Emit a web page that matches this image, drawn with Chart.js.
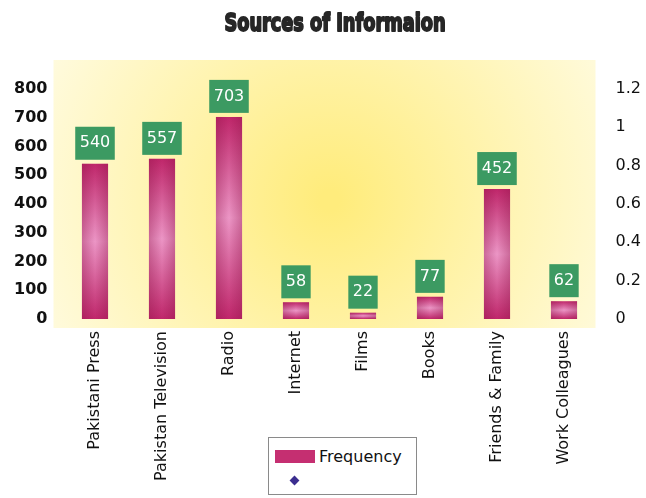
<!DOCTYPE html>
<html>
<head>
<meta charset="utf-8">
<script src="https://cdn.jsdelivr.net/npm/chart.js@4/dist/chart.umd.min.js"></script>
<style>
  body { margin: 0; background: #fff; }
  #wrap { position: relative; width: 646px; height: 498px; overflow: hidden; }
  #legend {
    position: absolute; left: 268px; top: 437px; width: 149px; height: 58px;
    border: 1px solid #8a8a8a; background: #fff; box-sizing: border-box;
    font-family: "DejaVu Sans", sans-serif; font-size: 16px; color: #111;
  }
  #legend .row { position: absolute; left: 6px; display: flex; align-items: center; }
  #legend .swatch { width: 40px; height: 13px; margin-right: 4px; }
  #legend .diamond { width: 7px; height: 7px; transform: rotate(45deg); margin-left: 16px; }
</style>
</head>
<body>
<div id="wrap">
  <canvas id="chart" width="646" height="498"></canvas>
  <div id="legend"></div>
</div>
<script>
// Survey answers: where people get their information
const sources = ['Pakistani Press', 'Pakistan Television', 'Radio', 'Internet',
                 'Films', 'Books', 'Friends & Family', 'Work Colleagues'];
const frequency = [540, 557, 703, 58, 22, 77, 452, 62];
const leftTicks = [0, 100, 200, 300, 400, 500, 600, 700, 800];
const rightTicks = [0, 0.2, 0.4, 0.6, 0.8, 1, 1.2];
const chartTitle = 'Sources of Informaion';

const labelFont = '"DejaVu Sans", sans-serif';

// heavy, squeezed headline above the plot
const headline = {
  id: 'headline',
  afterDraw(chart) {
    const { ctx } = chart;
    ctx.save();
    ctx.translate(335, 25);
    ctx.scale(0.74, 1);
    ctx.font = 'bold 24px "DejaVu Sans", sans-serif';
    ctx.textAlign = 'center';
    ctx.textBaseline = 'middle';
    ctx.lineJoin = 'round';
    ctx.lineWidth = 2;
    ctx.strokeStyle = '#262626';
    ctx.fillStyle = '#262626';
    ctx.strokeText(chartTitle, 0, 0);
    ctx.fillText(chartTitle, 0, 0);
    ctx.restore();
  }
};

// pale yellow glow behind the plot
const backdrop = {
  id: 'backdrop',
  beforeDraw(chart) {
    const { ctx, chartArea: a } = chart;
    const x0 = a.left - 8, x1 = a.right - 2, y0 = a.top - 29, y1 = a.bottom + 9;
    const g = ctx.createRadialGradient(330, 200, 10, 330, 200, 320);
    g.addColorStop(0, '#ffec7c');
    g.addColorStop(0.45, '#fff3aa');
    g.addColorStop(1, '#fffbe0');
    ctx.save();
    ctx.fillStyle = g;
    ctx.fillRect(x0, y0, x1 - x0, y1 - y0);
    ctx.restore();
  }
};

// darken the bar edges so they look rounded, then put the value boxes on top
const barDecor = {
  id: 'barDecor',
  afterDatasetsDraw(chart) {
    const { ctx } = chart;
    const meta = chart.getDatasetMeta(0);
    ctx.save();
    meta.data.forEach((bar, i) => {
      const { x, y, base, width } = bar.getProps(['x', 'y', 'base', 'width'], true);
      const left = x - width / 2;
      const shade = ctx.createLinearGradient(left, 0, left + width, 0);
      shade.addColorStop(0, 'rgba(140,20,70,0.35)');
      shade.addColorStop(0.5, 'rgba(140,20,70,0)');
      shade.addColorStop(1, 'rgba(140,20,70,0.35)');
      ctx.fillStyle = shade;
      ctx.fillRect(left, y, width, base - y);

      const text = String(frequency[i]);
      ctx.font = '16px ' + labelFont;
      const w = ctx.measureText(text).width + 9;
      const h = 33;
      const bottom = y - 4;
      ctx.fillStyle = '#3c9a62';
      ctx.fillRect(x - w / 2, bottom - h, w, h);
      ctx.fillStyle = '#ffffff';
      ctx.textAlign = 'center';
      ctx.textBaseline = 'middle';
      ctx.fillText(text, x, bottom - h / 2);
    });
    ctx.restore();
  }
};

function barFill(context) {
  const chart = context.chart;
  if (!chart.chartArea || context.type !== 'data') return '#c52f71';
  const y = chart.scales.y;
  const top = y.getPixelForValue(context.raw);
  const bottom = y.getPixelForValue(0);
  const g = chart.ctx.createLinearGradient(0, top, 0, bottom);
  g.addColorStop(0, '#c0276b');
  g.addColorStop(0.5, '#ec96c6');
  g.addColorStop(1, '#c0276b');
  return g;
}

const chart = new Chart(document.getElementById('chart'), {
  data: {
    labels: sources,
    datasets: [
      {
        type: 'bar',
        label: 'Frequency',
        data: frequency,
        yAxisID: 'y',
        backgroundColor: barFill,
        borderWidth: 0,
        barPercentage: 0.39,
        categoryPercentage: 1
      },
      {
        type: 'line',
        label: '',
        data: sources.map(() => null),
        yAxisID: 'y1',
        borderColor: '#3b2d8f',
        backgroundColor: '#3b2d8f',
        pointStyle: 'rectRot'
      }
    ]
  },
  options: {
    responsive: false,
    animation: false,
    layout: { padding: { top: 89, left: 0, right: 0, bottom: 0 } },
    plugins: {
      legend: { display: false },
      tooltip: { enabled: false },
      title: { display: false }
    },
    scales: {
      x: {
        grid: { display: false, drawTicks: false },
        border: { display: false },
        ticks: {
          autoSkip: false, maxRotation: 90, minRotation: 90, padding: 12,
          color: '#111', font: { family: labelFont, size: 16 }
        },
        afterFit(s) { s.height = 179; }
      },
      y: {
        position: 'left',
        min: 0, max: 800,
        grid: { display: false, drawTicks: false },
        border: { display: false },
        afterBuildTicks(s) { s.ticks = leftTicks.map(v => ({ value: v })); },
        ticks: { padding: 14, color: '#111', font: { family: labelFont, size: 16, weight: 'bold' } },
        afterFit(s) { s.width = 61.5; }
      },
      y1: {
        position: 'right',
        min: 0, max: 1.2,
        grid: { display: false, drawTicks: false },
        border: { display: false },
        afterBuildTicks(s) { s.ticks = rightTicks.map(v => ({ value: v })); },
        ticks: {
          padding: 18, color: '#111', font: { family: labelFont, size: 16 },
          callback: v => String(Math.round(v * 10) / 10)
        },
        afterFit(s) { s.width = 48.5; }
      }
    }
  },
  plugins: [backdrop, barDecor, headline]
});

// legend box under the plot, built from the datasets
const legend = document.getElementById('legend');
chart.data.datasets.forEach((ds, i) => {
  const row = document.createElement('div');
  row.className = 'row';
  row.style.top = i === 0 ? '9px' : '39px';
  const mark = document.createElement('span');
  if (ds.type === 'bar') {
    mark.className = 'swatch';
    mark.style.background = '#c52f71';
  } else {
    mark.className = 'diamond';
    mark.style.background = ds.backgroundColor;
  }
  row.appendChild(mark);
  const label = document.createElement('span');
  label.textContent = ds.label;
  row.appendChild(label);
  legend.appendChild(row);
});
</script>
</body>
</html>
